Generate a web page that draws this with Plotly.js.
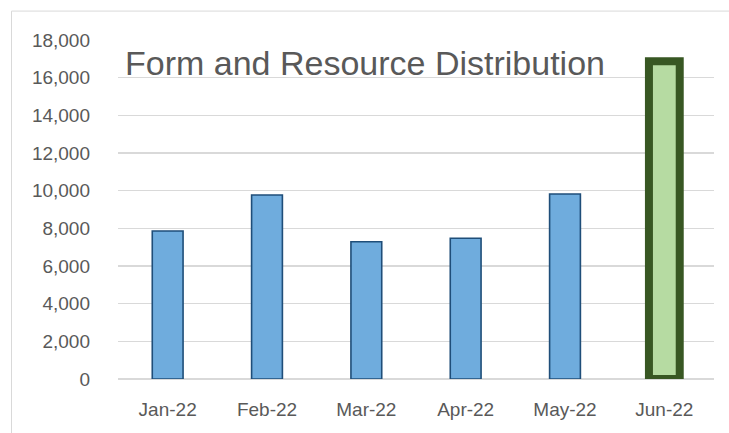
<!DOCTYPE html>
<html>
<head>
<meta charset="utf-8">
<script src="https://cdn.plot.ly/plotly-3.0.1.min.js"></script>
<style>html,body{margin:0;padding:0;background:#fff;}#chart{width:729px;height:433px;}</style>
</head>
<body>
<div id="chart"></div>
<script>
const months = ["Jan-22", "Feb-22", "Mar-22", "Apr-22", "May-22", "Jun-22"];
const distributed = [7860, 9770, 7290, 7470, 9820, 16870];
const chartTitle = "Form and Resource Distribution";

const highlightIndex = months.length - 1;
const fillColors = months.map((m, i) => i === highlightIndex ? "#B6DBA2" : "#6FACDD");
const lineColors = months.map((m, i) => i === highlightIndex ? "#385723" : "#1F4E79");
const lineWidths = months.map((m, i) => i === highlightIndex ? 8 : 1.6);

const textColor = "#595959";
const font = "Liberation Sans, Arial, sans-serif";

const trace = {
  type: "bar",
  x: months,
  y: distributed,
  width: 0.31,
  cliponaxis: false,
  hoverinfo: "x+y",
  marker: { color: fillColors, line: { color: lineColors, width: lineWidths } }
};

const L = 118, R = 15, T = 39.5, B = 53.5, W = 729, H = 433;
const pw = W - L - R, ph = H - T - B;
const px = v => (v - L) / pw;
const py = v => (H - B - v) / ph;

const layout = {
  width: W, height: H,
  margin: { l: L, r: R, t: T, b: B, pad: 0 },
  paper_bgcolor: "#ffffff",
  plot_bgcolor: "#ffffff",
  showlegend: false,
  font: { family: font, color: textColor, size: 19 },
  xaxis: {
    type: "category",
    showgrid: false,
    zeroline: false,
    showline: false,
    ticks: "",
    ticklabelstandoff: 17,
    tickfont: { family: font, size: 19, color: textColor }
  },
  yaxis: {
    range: [0, 18000],
    dtick: 2000,
    tickformat: ",d",
    showgrid: true,
    gridcolor: "#D9D9D9",
    gridwidth: 1.5,
    zeroline: true,
    zerolinecolor: "#D9D9D9",
    zerolinewidth: 1.5,
    showline: false,
    ticks: "",
    ticklabelstandoff: 27,
    tickfont: { family: font, size: 19, color: textColor }
  },
  shapes: [{
    type: "rect", xref: "paper", yref: "paper",
    x0: px(11.5), x1: px(740), y0: py(445), y1: py(10.5),
    line: { color: "#D9D9D9", width: 1 }, fillcolor: "rgba(0,0,0,0)", layer: "below"
  }],
  annotations: [{
    text: chartTitle,
    xref: "paper", yref: "paper",
    x: px(123), y: py(63),
    xanchor: "left", yanchor: "middle",
    showarrow: false,
    font: { family: font, size: 34, color: textColor }
  }]
};

Plotly.newPlot("chart", [trace], layout, { displayModeBar: false, staticPlot: true });
</script>
</body>
</html>
